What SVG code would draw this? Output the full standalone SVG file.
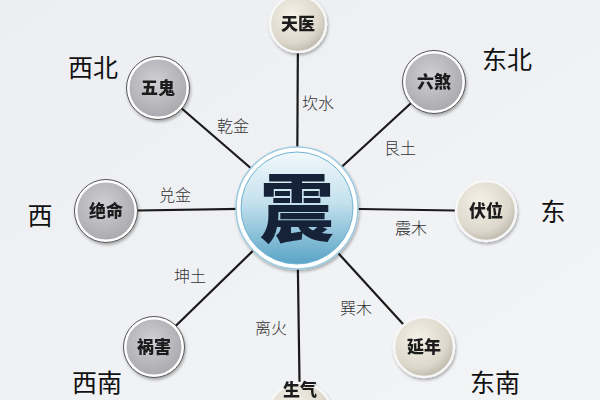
<svg xmlns="http://www.w3.org/2000/svg" width="600" height="400" viewBox="0 0 600 400">
<defs>
<linearGradient id="bg" x1="0" y1="0" x2="1" y2="1"><stop offset="0" stop-color="#eceef1"/><stop offset="1" stop-color="#f3f4f6"/></linearGradient>
<radialGradient id="grey" cx="0.45" cy="0.4" r="0.6"><stop offset="0" stop-color="#d0d0d4"/><stop offset="1" stop-color="#a9a9ae"/></radialGradient>
<radialGradient id="cream" cx="0.4" cy="0.35" r="0.7"><stop offset="0" stop-color="#f4f1e8"/><stop offset="0.7" stop-color="#ddd8cb"/><stop offset="1" stop-color="#b9b4a8"/></radialGradient>
<linearGradient id="blue" x1="0" y1="0" x2="0" y2="1"><stop offset="0" stop-color="#f2f8fb"/><stop offset="0.45" stop-color="#c4e1ee"/><stop offset="1" stop-color="#5aa4c6"/></linearGradient>
<filter id="sh" x="-30%" y="-30%" width="160%" height="160%"><feDropShadow dx="1" dy="2" stdDeviation="1.5" flood-color="#000" flood-opacity="0.3"/></filter>
</defs>
<style>
.ln{stroke:#1a1a1a;stroke-width:2.2;fill:none}
.g{fill:url(#grey);stroke:#fff;stroke-width:3}
.c{fill:url(#cream);stroke:#f7f7f7;stroke-width:2.5}
.ring{fill:none;stroke:#555;stroke-width:1}
.nt{font-family:"Noto Sans CJK SC",sans-serif;font-weight:900;font-size:17px;fill:#1a1a1a;text-anchor:middle}
.lb{font-family:"Noto Sans CJK SC",sans-serif;font-weight:300;font-size:16px;fill:#333;text-anchor:middle}
.dir{font-family:"Noto Sans CJK SC",sans-serif;font-weight:400;font-size:25px;fill:#111;text-anchor:middle}
</style>
<rect width="600" height="400" fill="url(#bg)"/>
<g id="connectors">
<line class="ln" x1="297" y1="208" x2="298" y2="24"/>
<line class="ln" x1="297" y1="208" x2="158" y2="88"/>
<line class="ln" x1="297" y1="208" x2="434" y2="82"/>
<line class="ln" x1="297" y1="208" x2="106" y2="211"/>
<line class="ln" x1="297" y1="208" x2="486" y2="211"/>
<line class="ln" x1="297" y1="208" x2="154" y2="347"/>
<line class="ln" x1="297" y1="208" x2="424" y2="347"/>
<line class="ln" x1="297" y1="208" x2="300" y2="415"/>
</g>
<g id="labels">
<text class="lb" x="318" y="109">坎水</text>
<text class="lb" x="233" y="132">乾金</text>
<text class="lb" x="400" y="154">艮土</text>
<text class="lb" x="175" y="201">兑金</text>
<text class="lb" x="411" y="234">震木</text>
<text class="lb" x="190" y="282">坤土</text>
<text class="lb" x="356" y="314">巽木</text>
<text class="lb" x="271" y="334">离火</text>
<text class="dir" x="93" y="77">西北</text>
<text class="dir" x="507" y="69">东北</text>
<text class="dir" x="40" y="225">西</text>
<text class="dir" x="553" y="221">东</text>
<text class="dir" x="97" y="392">西南</text>
<text class="dir" x="495" y="392" font-size="22">东南</text>
</g>
<g id="center" filter="url(#sh)">
<circle cx="297" cy="208" r="61" fill="#ffffff" stroke="#9ecbe0" stroke-width="1.5"/>
<circle cx="297" cy="208" r="56" fill="url(#blue)" stroke="#6fb3d2" stroke-width="1"/>
<text x="297" y="236" font-family="Noto Sans CJK SC,sans-serif" font-weight="900" font-size="74" fill="#152038" text-anchor="middle">震</text>
</g>
<g id="tianyi" filter="url(#sh)"><circle class="c" cx="298" cy="24" r="28"/><text class="nt" x="298" y="30">天医</text></g>
<g id="wugui" filter="url(#sh)"><circle class="g" cx="158" cy="88" r="30"/><circle class="ring" cx="158" cy="88" r="31.5"/><text class="nt" x="158" y="94">五鬼</text></g>
<g id="liusha" filter="url(#sh)"><circle class="g" cx="434" cy="82" r="30"/><circle class="ring" cx="434" cy="82" r="31.5"/><text class="nt" x="434" y="88">六煞</text></g>
<g id="jueming" filter="url(#sh)"><circle class="g" cx="106" cy="211" r="30"/><circle class="ring" cx="106" cy="211" r="31.5"/><text class="nt" x="106" y="217">绝命</text></g>
<g id="fuwei" filter="url(#sh)"><circle class="c" cx="486" cy="211" r="30"/><text class="nt" x="486" y="217">伏位</text></g>
<g id="huohai" filter="url(#sh)"><circle class="g" cx="154" cy="347" r="29"/><circle class="ring" cx="154" cy="347" r="30.5"/><text class="nt" x="154" y="353">祸害</text></g>
<g id="yannian" filter="url(#sh)"><circle class="c" cx="424" cy="347" r="30"/><text class="nt" x="424" y="353">延年</text></g>
<g id="shengqi" filter="url(#sh)"><circle class="c" cx="300" cy="415" r="32"/><text class="nt" x="300" y="396" font-size="15">生气</text></g>
</svg>
